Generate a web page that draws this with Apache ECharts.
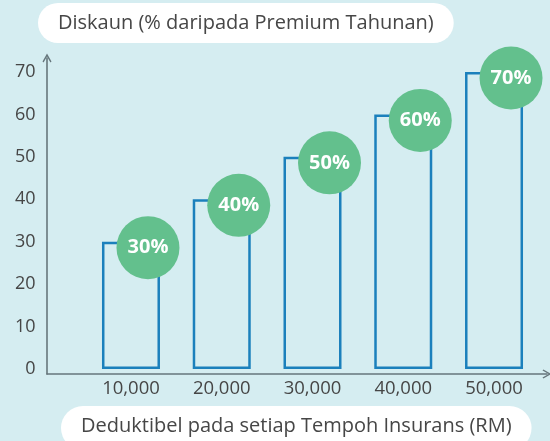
<!DOCTYPE html>
<html>
<head>
<meta charset="utf-8">
<script src="https://cdn.jsdelivr.net/npm/echarts@6/dist/echarts.min.js"></script>
<style>
  html, body { margin: 0; padding: 0; background: #d5edf1; }
  #main { width: 550px; height: 441px; }
</style>
</head>
<body>
<div id="main"></div>
<script>
// data
var categories = ['10,000', '20,000', '30,000', '40,000', '50,000'];
var discounts = [30, 40, 50, 60, 70];
var yTitle = 'Diskaun (% daripada Premium Tahunan)';
var xTitle = 'Deduktibel pada setiap Tempoh Insurans (RM)';

var font = 'Open Sans';
var textGrey = '#464646';
var axisGrey = '#66767c';
// open chevron used as the axis arrow
var chevron = 'path://M0,9 L5,0 L10,9 L8.8,10 L5,3.2 L1.2,10 Z';

var myChart = echarts.init(document.getElementById('main'));
myChart.setOption({
    backgroundColor: '#d5edf1',
    animation: false,
    title: [{
        text: yTitle,
        left: 38, top: 3,
        padding: [10, 20, 10, 20],
        backgroundColor: '#fff',
        borderRadius: 22,
        textStyle: { fontFamily: font, fontSize: 20, fontWeight: 'normal', color: textGrey }
    }, {
        text: xTitle,
        left: 61, top: 406,
        padding: [10, 20, 14, 20],
        backgroundColor: '#fff',
        borderRadius: 22,
        textStyle: { fontFamily: font, fontSize: 20, fontWeight: 'normal', color: textGrey }
    }],
    grid: [
        // bars + labels
        { left: 85.6, right: 10.6, top: 72, bottom: 72 },
        // axis lines with arrows
        { left: 47, right: 3, top: 58, bottom: 67 }
    ],
    xAxis: [{
        type: 'category',
        gridIndex: 0,
        data: categories,
        axisLine: { show: false },
        axisTick: { show: false },
        axisLabel: { margin: 10, fontFamily: font, fontSize: 18.5, color: textGrey }
    }, {
        type: 'value',
        gridIndex: 1,
        min: 0, max: 1,
        axisLine: {
            show: true,
            symbol: ['none', chevron],
            symbolSize: [11, 9],
            lineStyle: { color: axisGrey, width: 1.6 }
        },
        axisTick: { show: false },
        axisLabel: { show: false },
        splitLine: { show: false }
    }],
    yAxis: [{
        type: 'value',
        gridIndex: 0,
        min: 0, max: 70, interval: 10,
        axisLine: { show: false },
        axisTick: { show: false },
        splitLine: { show: false },
        axisLabel: { margin: 50, fontFamily: font, fontSize: 18, color: textGrey }
    }, {
        type: 'value',
        gridIndex: 1,
        min: 0, max: 1,
        axisLine: {
            show: true,
            symbol: ['none', chevron],
            symbolSize: [11, 9],
            lineStyle: { color: axisGrey, width: 1.6 }
        },
        axisTick: { show: false },
        axisLabel: { show: false },
        splitLine: { show: false }
    }],
    series: [{
        type: 'bar',
        xAxisIndex: 0, yAxisIndex: 0,
        data: discounts,
        barWidth: 58,
        itemStyle: { color: 'rgba(0,0,0,0)', borderColor: '#1b80bc', borderWidth: 2.5 }
    }, {
        type: 'scatter',
        xAxisIndex: 0, yAxisIndex: 0,
        data: discounts,
        symbol: 'circle',
        symbolSize: 63,
        symbolOffset: [17, 6],
        itemStyle: { color: '#63c08d', opacity: 1 },
        z: 5,
        label: {
            show: true,
            position: 'inside',
            formatter: '{c}%',
            fontFamily: font,
            fontSize: 20,
            fontWeight: 'bold',
            color: '#fff'
        }
    }]
});
</script>
</body>
</html>
